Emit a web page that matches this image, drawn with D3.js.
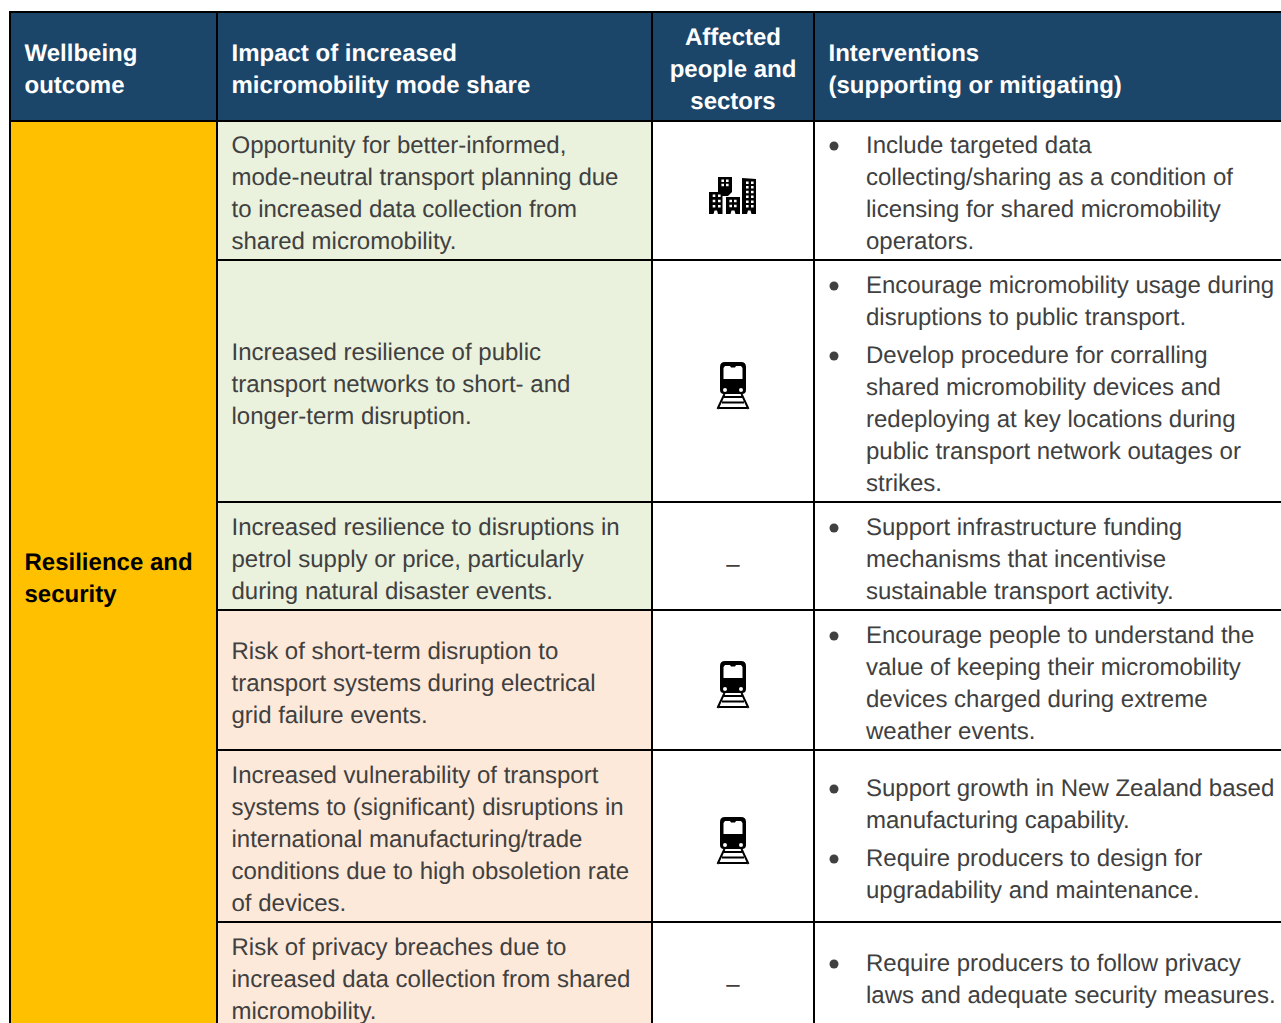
<!DOCTYPE html>
<html>
<head>
<meta charset="utf-8">
<script src="https://cdn.jsdelivr.net/npm/d3@7"></script>
<style>
  html, body { margin: 0; background: #fff; overflow: hidden; }
  svg { display: block; }
  text { font-family: "Liberation Sans", Arial, sans-serif; font-size: 24px; text-rendering: geometricPrecision; }
</style>
</head>
<body>
<script>
const headers = [
  ['Wellbeing', 'outcome'],
  ['Impact of increased', 'micromobility mode share'],
  ['Affected', 'people and', 'sectors'],
  ['Interventions', '(supporting or mitigating)'],
];
const outcome = ['Resilience and', 'security'];
const impacts = [
  ['Opportunity for better-informed,', 'mode-neutral transport planning due', 'to increased data collection from', 'shared micromobility.'],
  ['Increased resilience of public', 'transport networks to short- and', 'longer-term disruption.'],
  ['Increased resilience to disruptions in', 'petrol supply or price, particularly', 'during natural disaster events.'],
  ['Risk of short-term disruption to', 'transport systems during electrical', 'grid failure events.'],
  ['Increased vulnerability of transport', 'systems to (significant) disruptions in', 'international manufacturing/trade', 'conditions due to high obsoletion rate', 'of devices.'],
  ['Risk of privacy breaches due to', 'increased data collection from shared', 'micromobility.'],
];
const tones = ['benefit', 'benefit', 'benefit', 'risk', 'risk', 'risk'];
const affected = ['city', 'train', null, 'train', 'train', null];
const interventions = [
  [['Include targeted data', 'collecting/sharing as a condition of', 'licensing for shared micromobility', 'operators.']],
  [['Encourage micromobility usage during', 'disruptions to public transport.'],
   ['Develop procedure for corralling', 'shared micromobility devices and', 'redeploying at key locations during', 'public transport network outages or', 'strikes.']],
  [['Support infrastructure funding', 'mechanisms that incentivise', 'sustainable transport activity.']],
  [['Encourage people to understand the', 'value of keeping their micromobility', 'devices charged during extreme', 'weather events.']],
  [['Support growth in New Zealand based', 'manufacturing capability.'],
   ['Require producers to design for', 'upgradability and maintenance.']],
  [['Require producers to follow privacy', 'laws and adequate security measures.']],
];

const width = 1281, height = 1023;
const lineH = 32, paraGap = 6, rowPad = 11.9, textDy = 11;
const colX = [10, 217, 652, 814, 1400];
const toneFill = { benefit: '#eaf1dd', risk: '#fde9d9' };
const ink = '#404040', navy = '#1b4569';

const svg = d3.select('body').append('svg').attr('width', width).attr('height', height);

// row heights come from how many lines of text each row holds
const paraHeight = paras => d3.sum(paras, p => p.length * lineH) + (paras.length - 1) * paraGap;
const rowHeights = impacts.map((d, i) => Math.max(d.length * lineH, paraHeight(interventions[i])) + rowPad);
const edges = [120.5];
rowHeights.forEach(h => edges.push(edges[edges.length - 1] + h));
const rows = impacts.map((d, i) => ({
  i, impact: d, tone: tones[i], icon: affected[i], paras: interventions[i],
  y0: Math.round(edges[i]), y1: Math.round(edges[i + 1]),
}));
const headTop = 12, headBottom = rows[0].y0;
const bottom = rows[rows.length - 1].y1;

function textBlock(g, lines, x, midY, opts) {
  const top = midY - lines.length * lineH / 2;
  g.append('g').selectAll('text').data(lines).enter().append('text')
    .attr('x', x)
    .attr('y', (d, i) => top + i * lineH + lineH / 2 + textDy)
    .attr('fill', opts.fill)
    .attr('font-weight', opts.bold ? 700 : 400)
    .attr('text-anchor', opts.anchor || 'start')
    .text(d => d);
}

// header
svg.append('rect').attr('x', colX[0]).attr('y', headTop).attr('width', width).attr('height', headBottom - headTop).attr('fill', navy);
headers.forEach((lines, c) => {
  const centred = c === 2;
  const x = centred ? (colX[2] + colX[3]) / 2 : colX[c] + 14.5;
  textBlock(svg, lines, x, Math.floor((headTop + headBottom) / 2), { fill: '#fff', bold: true, anchor: centred ? 'middle' : 'start' });
});

// merged outcome column
svg.append('rect').attr('x', colX[0]).attr('y', headBottom).attr('width', colX[1] - colX[0]).attr('height', bottom - headBottom).attr('fill', '#ffc000');
textBlock(svg, outcome, colX[0] + 14.5, Math.floor((headBottom + bottom) / 2), { fill: '#000', bold: true });

// icons, drawn around their own centre
function cityPath() {
  const p = d3.path();
  p.moveTo(-24, -3); p.lineTo(-15, -3); p.lineTo(-15, -18); p.lineTo(-1, -18); p.lineTo(-1, -3);
  p.lineTo(-5, 1); p.lineTo(-10.5, 1); p.lineTo(-10.5, 19); p.lineTo(-15, 19); p.lineTo(-16, 15.5);
  p.lineTo(-18.5, 15.5); p.lineTo(-19.5, 19); p.lineTo(-24, 19); p.closePath();
  p.moveTo(-7, 2); p.lineTo(7, 2); p.lineTo(7, 19); p.lineTo(2.5, 19); p.lineTo(1.5, 15.5);
  p.lineTo(-1.5, 15.5); p.lineTo(-2.5, 19); p.lineTo(-7, 19); p.closePath();
  p.moveTo(9, -17); p.lineTo(23, -16); p.lineTo(23, 19); p.lineTo(18.5, 19); p.lineTo(17.5, 15.5);
  p.lineTo(15, 15.5); p.lineTo(14, 19); p.lineTo(9, 19); p.closePath();
  const windows = [[-19, 0.7], [-13.7, 0.7], [-19, 6], [-13.7, 6], [-19, 11.3], [-13.7, 11.3],
    [-10.3, -14.3], [-5.7, -14.3], [-10.3, -10], [-5.7, -10],
    [-2.3, 6], [2.3, 6], [-2.3, 11], [2.3, 11],
    [14.3, -12.3], [19.3, -12.3], [14.3, -7.7], [19.3, -7.7], [14.3, -3], [19.3, -3],
    [14.3, 1.7], [19.3, 1.7], [14.3, 6.7], [19.3, 6.7], [14.3, 11.3], [19.3, 11.3]];
  windows.forEach(([x, y]) => p.rect(x - 1.3, y - 1.3, 2.6, 2.6));
  return p.toString();
}
function trainPath() {
  const p = d3.path();
  p.moveTo(-8, -24);
  p.lineTo(8, -24);
  p.quadraticCurveTo(13, -24, 13, -19);
  p.lineTo(13, 4);
  p.quadraticCurveTo(13, 8, 9, 8);
  p.lineTo(-9, 8);
  p.quadraticCurveTo(-13, 8, -13, 4);
  p.lineTo(-13, -19);
  p.quadraticCurveTo(-13, -24, -8, -24);
  p.closePath();
  p.moveTo(-8, -20);
  p.lineTo(-3, -20);
  p.lineTo(-2, -18.5);
  p.lineTo(2, -18.5);
  p.lineTo(3, -20);
  p.lineTo(8, -20);
  p.lineTo(9.5, -18);
  p.lineTo(9.5, -7);
  p.lineTo(-9.5, -7);
  p.lineTo(-9.5, -18);
  p.closePath();
  p.moveTo(-6, 4);
  p.arc(-8, 4, 2, 0, Math.PI * 2);
  p.moveTo(10, 4);
  p.arc(8, 4, 2, 0, Math.PI * 2);
  return p.toString();
}
function trackPath() {
  const p = d3.path();
  p.moveTo(-8.5, 8); p.lineTo(-15.5, 23);
  p.moveTo(8.5, 8); p.lineTo(15.5, 23);
  p.moveTo(-9, 11); p.lineTo(9, 11);
  p.moveTo(-11, 16.5); p.lineTo(11, 16.5);
  p.moveTo(-14, 22); p.lineTo(14, 22);
  return p.toString();
}

// body rows
const row = svg.selectAll('g.row').data(rows).enter().append('g').attr('class', 'row');
row.append('rect')
  .attr('x', colX[1]).attr('y', d => d.y0)
  .attr('width', colX[2] - colX[1]).attr('height', d => d.y1 - d.y0)
  .attr('fill', d => toneFill[d.tone]);

row.each(function (d) {
  const g = d3.select(this);
  const mid = Math.floor((d.y0 + d.y1) / 2);
  textBlock(g, d.impact, colX[1] + 14.5, mid, { fill: ink });

  const cx = (colX[2] + colX[3]) / 2;
  if (d.icon === 'city') {
    g.append('path').attr('transform', `translate(${cx},${mid + 5})`).attr('d', cityPath()).attr('fill', '#000').attr('fill-rule', 'evenodd');
  } else if (d.icon === 'train') {
    const t = g.append('g').attr('transform', `translate(${cx},${mid + 5})`);
    t.append('path').attr('d', trainPath()).attr('fill', '#000').attr('fill-rule', 'evenodd');
    t.append('path').attr('d', trackPath()).attr('stroke', '#000').attr('stroke-width', 2).attr('fill', 'none');
  } else {
    textBlock(g, ['\u2013'], cx, mid + 5, { fill: ink, anchor: 'middle' });
  }

  let y = mid - paraHeight(d.paras) / 2;
  d.paras.forEach(lines => {
    const h = lines.length * lineH;
    g.append('circle').attr('cx', colX[3] + 20).attr('cy', y + lineH / 2 + 4).attr('r', 4.5).attr('fill', ink);
    textBlock(g, lines, colX[3] + 52, y + h / 2, { fill: ink });
    y += h + paraGap;
  });
});

// grid lines
const lines = svg.append('g').attr('stroke', '#000').attr('stroke-width', 2);
[headTop, headBottom].concat(rows.map(d => d.y1)).forEach((y, i) => {
  lines.append('line').attr('x1', i < 2 ? colX[0] : colX[1]).attr('x2', width).attr('y1', y).attr('y2', y);
});
colX.slice(0, 4).forEach(x => {
  lines.append('line').attr('x1', x).attr('x2', x).attr('y1', headTop - 1).attr('y2', bottom);
});
</script>
</body>
</html>
